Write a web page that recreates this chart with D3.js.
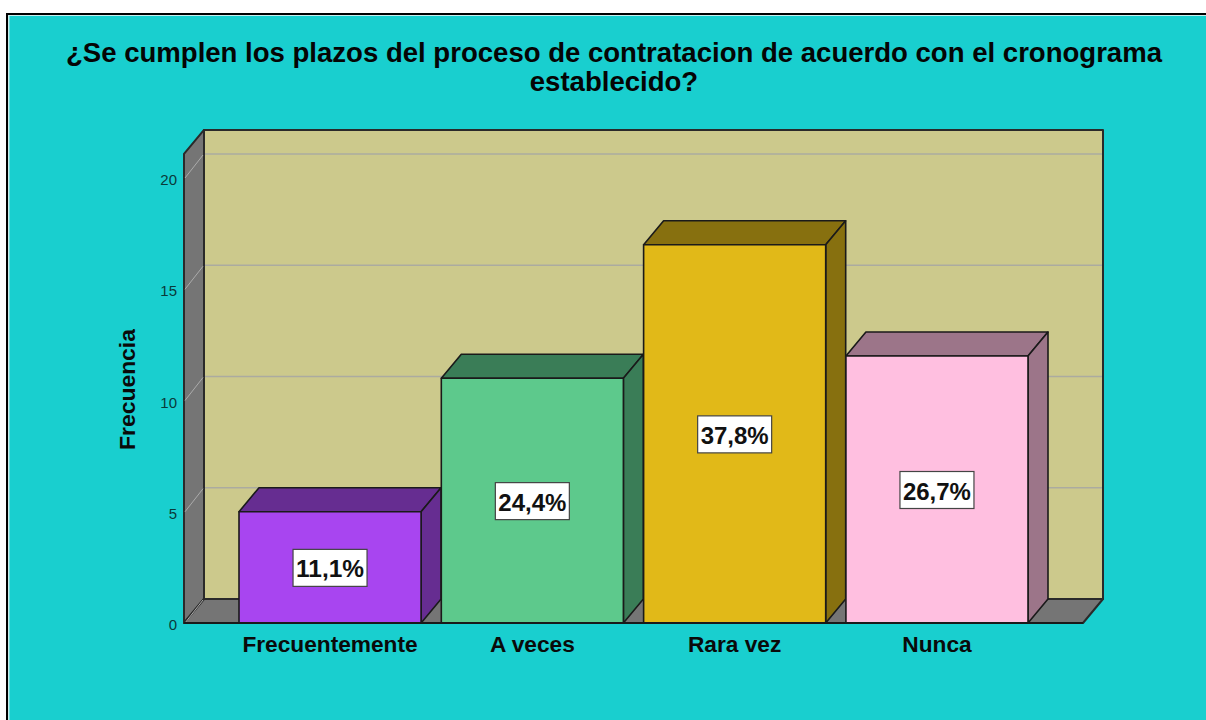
<!DOCTYPE html>
<html><head><meta charset="utf-8">
<style>html,body{margin:0;padding:0;background:#fff}svg{display:block}text{font-family:"Liberation Sans",Arial,sans-serif}</style>
<script src="https://cdn.jsdelivr.net/npm/d3@7"></script></head><body>
<script>
const categories = ["Frecuentemente","A veces","Rara vez","Nunca"];
const frequencies = [5,11,17,12];
const percentLabels = ["11,1%","24,4%","37,8%","26,7%"];
const yTicks = [0,5,10,15,20];
const titleLines = ["¿Se cumplen los plazos del proceso de contratacion de acuerdo con el cronograma","establecido?"];
const yAxisTitle = "Frecuencia";
const frontColors = ["#A845F0","#5DC98C","#E1B918","#FFBFE0"];
const sideColors = ["#662D91","#3A7D57","#87700F","#9C7589"];

const W=1206,H=720,dx=20,dy=-24;
const svg=d3.select("body").append("svg").attr("width",W).attr("height",H);
svg.append("rect").attr("x",7).attr("y",14).attr("width",W+10).attr("height",H+10).attr("fill","#19CFCF").attr("stroke","#000").attr("stroke-width",2);
svg.append("rect").attr("x",8).attr("y",15).attr("width",W).attr("height",1).attr("fill","#c8eeee");
svg.append("rect").attr("x",8).attr("y",15).attr("width",1.5).attr("height",H).attr("fill","#c8eeee");

const xLeft=184,xRight=1083;
const y=d3.scaleLinear().domain([0,20]).range([623,178]);
const x=d3.scaleBand().domain(categories).range([239,1028]).paddingInner(0.1);
const yTop=y(21.08),yBot=y(0);
const pts=a=>a.map(p=>p.join(",")).join(" ");
const edge="#2a2a2a";
// walls
const g=svg.append("g").attr("stroke-linejoin","round");
g.append("polygon").attr("points",pts([[xLeft+dx,yTop+dy],[xRight+dx,yTop+dy],[xRight+dx,yBot+dy],[xLeft+dx,yBot+dy]])).attr("fill","#CCC98C").attr("stroke",edge).attr("stroke-width",2);
g.append("polygon").attr("points",pts([[xLeft,yTop],[xLeft+dx,yTop+dy],[xLeft+dx,yBot+dy],[xLeft,yBot]])).attr("fill","#757575").attr("stroke",edge).attr("stroke-width",2);
g.append("polygon").attr("points",pts([[xLeft,yBot],[xLeft+dx,yBot+dy],[xRight+dx,yBot+dy],[xRight,yBot]])).attr("fill","#757575").attr("stroke",edge).attr("stroke-width",2);
// grid
yTicks.forEach(t=>{
  if(t>0) g.append("line").attr("x1",xLeft+dx+1).attr("x2",xRight+dx-1).attr("y1",y(t)+dy).attr("y2",y(t)+dy).attr("stroke","#ABABA0").attr("stroke-width",1.5);
  g.append("line").attr("x1",xLeft+1).attr("x2",xLeft+dx-1).attr("y1",y(t)).attr("y2",y(t)+dy+1).attr("stroke","#ABABAB").attr("stroke-width",1);
});
// bars
categories.forEach((c,i)=>{
  const x0=x(c),x1=x0+x.bandwidth(),yt=y(frequencies[i]),b=yBot;
  const bg=svg.append("g").attr("stroke","#1a1a1a").attr("stroke-width",1.6).attr("stroke-linejoin","round");
  bg.append("polygon").attr("points",pts([[x0,yt],[x0+dx,yt+dy],[x1+dx,yt+dy],[x1,yt]])).attr("fill",sideColors[i]);
  bg.append("polygon").attr("points",pts([[x1,yt],[x1+dx,yt+dy],[x1+dx,b+dy],[x1,b]])).attr("fill",sideColors[i]);
  bg.append("rect").attr("x",x0).attr("y",yt).attr("width",x.bandwidth()).attr("height",b-yt).attr("fill",frontColors[i]);
});
svg.append("line").attr("x1",xLeft).attr("x2",xRight).attr("y1",yBot).attr("y2",yBot).attr("stroke","#1a1a1a").attr("stroke-width",2);
// value labels
categories.forEach((c,i)=>{
  const cx=x(c)+x.bandwidth()/2, cy=(y(frequencies[i])+yBot)/2;
  svg.append("rect").attr("x",cx-37).attr("y",cy-18).attr("width",74).attr("height",37).attr("fill","#fff").attr("stroke","#444").attr("stroke-width",1.2);
  svg.append("text").attr("x",cx).attr("y",cy+10).attr("text-anchor","middle").attr("font-size",24).attr("font-weight","bold").attr("fill","#111").attr("textLength",68).attr("lengthAdjust","spacingAndGlyphs").text(percentLabels[i]);
});
// tick labels
yTicks.forEach(t=>svg.append("text").attr("x",177).attr("y",y(t)+7).attr("text-anchor","end").attr("font-size",15).attr("fill","#0a3a3a").text(t));
categories.forEach(c=>svg.append("text").attr("x",x(c)+x.bandwidth()/2).attr("y",652).attr("text-anchor","middle").attr("font-size",22.7).attr("font-weight","bold").attr("fill","#0a0a0a").text(c));
svg.append("text").attr("transform","translate(135,389.5) rotate(-90)").attr("text-anchor","middle").attr("font-size",22.9).attr("font-weight","bold").attr("fill","#0a0a0a").text(yAxisTitle);
titleLines.forEach((l,i)=>svg.append("text").attr("x",614).attr("y",62+i*28.5).attr("text-anchor","middle").attr("font-size",27.55).attr("font-weight","bold").attr("fill","#050505").text(l));
</script></body></html>
